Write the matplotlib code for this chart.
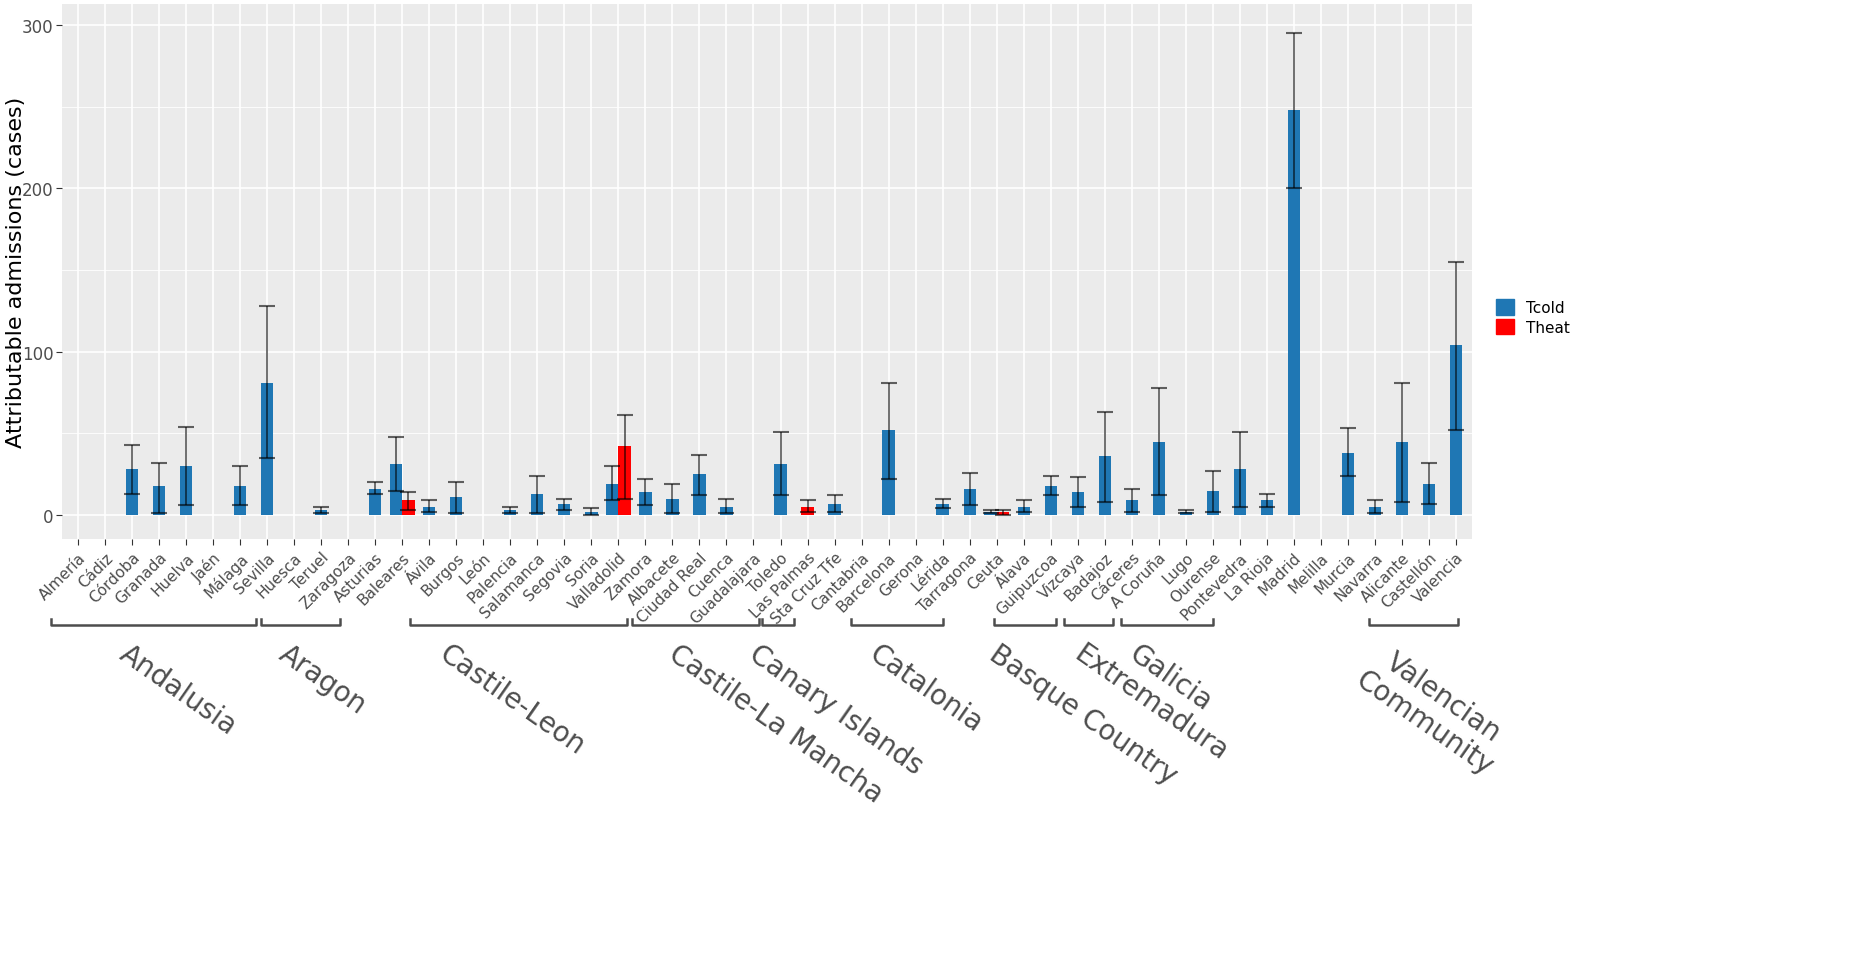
import matplotlib
matplotlib.use("Agg")
import matplotlib.pyplot as plt
import numpy as np

provinces = ["Almería","Cádiz","Córdoba","Granada","Huelva","Jaén","Málaga","Sevilla","Huesca","Teruel",
             "Zaragoza","Asturias","Baleares","Ávila","Burgos","León","Palencia","Salamanca","Segovia","Soria",
             "Valladolid","Zamora","Albacete","Ciudad Real","Cuenca","Guadalajara","Toledo","Las Palmas","Sta Cruz Tfe","Cantabria",
             "Barcelona","Gerona","Lérida","Tarragona","Ceuta","Álava","Guipuzcoa","Vizcaya","Badajoz","Cáceres",
             "A Coruña","Lugo","Ourense","Pontevedra","La Rioja","Madrid","Melilla","Murcia","Navarra","Alicante",
             "Castellón","Valencia"]
N = None
tcold = [N,N,28,18,30,N,18,81,N,3, N,16,31,5,11,N,3,13,7,2, 19,14,10,25,5,N,31,N,7,N,
         52,N,7,16,2,5,18,14,36,9, 45,2,15,28,9,248,N,38,5,45, 19,104]
tcold_lo = [N,N,13,1,6,N,6,35,N,1, N,13,15,2,1,N,1,1,3,0, 9,6,1,12,1,N,12,N,2,N,
            22,N,4,6,1,2,12,5,8,2, 12,1,2,5,5,200,N,24,1,8, 7,52]
tcold_hi = [N,N,43,32,54,N,30,128,N,5, N,20,48,9,20,N,5,24,10,4, 30,22,19,37,10,N,51,N,12,N,
            81,N,10,26,3,9,24,23,63,16, 78,3,27,51,13,295,N,53,9,81, 32,155]
theat_idx = [12, 20, 27, 34]
theat = [9, 42, 5, 2]
theat_lo = [3, 10, 2, 0]
theat_hi = [14, 61, 9, 3]

groups = ["Andalusia","Aragon","Castile-Leon","Castile-La Mancha","Canary Islands","Catalonia",
          "Basque Country","Extremadura","Galicia","Valencian\nCommunity"]
group_span = [(-1.0,6.6),(6.75,9.7),(12.3,20.3),(20.5,25.2),(25.3,26.5),(28.6,32.0),
              (33.9,36.2),(36.5,38.3),(38.6,42.0),(47.8,51.1)]
group_text_px = [(130,640),(290,640),(450,640),(680,640),(760,640),(880,640),
                 (1000,640),(1085,640),(1140,640),(1385,640)]

BLUE = "#1f77b4"
RED = "#ff0000"

fig = plt.figure(figsize=(18.68, 9.62), dpi=100)
ax = fig.add_axes([62/1868, 1-540/962, (1472-62)/1868, (540-5)/962])
ax.set_facecolor("#EBEBEB")
for s in ax.spines.values():
    s.set_visible(False)

x = np.arange(len(provinces))
w = 0.45
for i in range(len(provinces)):
    if tcold[i] is None:
        continue
    pos = i - w/2 if i in theat_idx else i
    ax.bar(pos, tcold[i], width=w, color=BLUE, zorder=3)
    ax.errorbar(pos, tcold[i], yerr=[[tcold[i]-tcold_lo[i]], [tcold_hi[i]-tcold[i]]],
                color="black", alpha=0.6, capsize=6, elinewidth=1.3, capthick=1.5, zorder=4)
for k, i in enumerate(theat_idx):
    pos = i + w/2 if tcold[i] is not None else i
    ax.bar(pos, theat[k], width=w, color=RED, zorder=3)
    ax.errorbar(pos, theat[k], yerr=[[theat[k]-theat_lo[k]], [theat_hi[k]-theat[k]]],
                color="black", alpha=0.6, capsize=6, elinewidth=1.3, capthick=1.5, zorder=4)

ax.set_xlim(-0.6, len(provinces)-0.4)
ax.set_ylim(-14.7, 313)
ax.set_yticks([0,100,200,300])
ax.set_yticks([50,150,250], minor=True)
ax.set_xticks(x)
ax.set_xticklabels(provinces, rotation=45, ha="right", rotation_mode="anchor",
                   fontsize=11, color="#4d4d4d")
ax.tick_params(axis="y", labelsize=12, labelcolor="#4d4d4d", color="#333333", length=4, pad=2)
ax.tick_params(axis="y", which="minor", length=0)
ax.tick_params(axis="x", length=4, color="#333333")
ax.grid(True, which="major", color="white", linewidth=1.2, zorder=0)
ax.grid(True, which="minor", axis="y", color="white", linewidth=0.6, zorder=0)
ax.set_axisbelow(True)
ax.set_ylabel("Attributable admissions (cases)", fontsize=16, color="black")
ax.yaxis.set_label_coords(-36/1410, 0.5)

import matplotlib.transforms as mt
tr = mt.blended_transform_factory(ax.transData, fig.transFigure)
yb = 1 - 626/962
yt = 1 - 620/962
for (a, b) in group_span:
    ax.plot([a, a, b, b], [yt, yb, yb, yt], transform=tr, color="#4d4d4d",
            linewidth=1.8, clip_on=False)
for g, (px, py) in zip(groups, group_text_px):
    fig.text(px/1868, 1-py/962, g, rotation=-35, rotation_mode="anchor",
             ha="left", va="top", fontsize=20, color="#4d4d4d", multialignment="center")

from matplotlib.patches import Patch
fig.legend(handles=[Patch(color=BLUE, label="Tcold"), Patch(color=RED, label="Theat")],
           loc="center left", bbox_to_anchor=(1482/1868, 1-318/962), frameon=False,
           fontsize=11, handlelength=1.2, handleheight=1.2, labelspacing=0.2)

fig.savefig("out.png", dpi=100, facecolor="white")
